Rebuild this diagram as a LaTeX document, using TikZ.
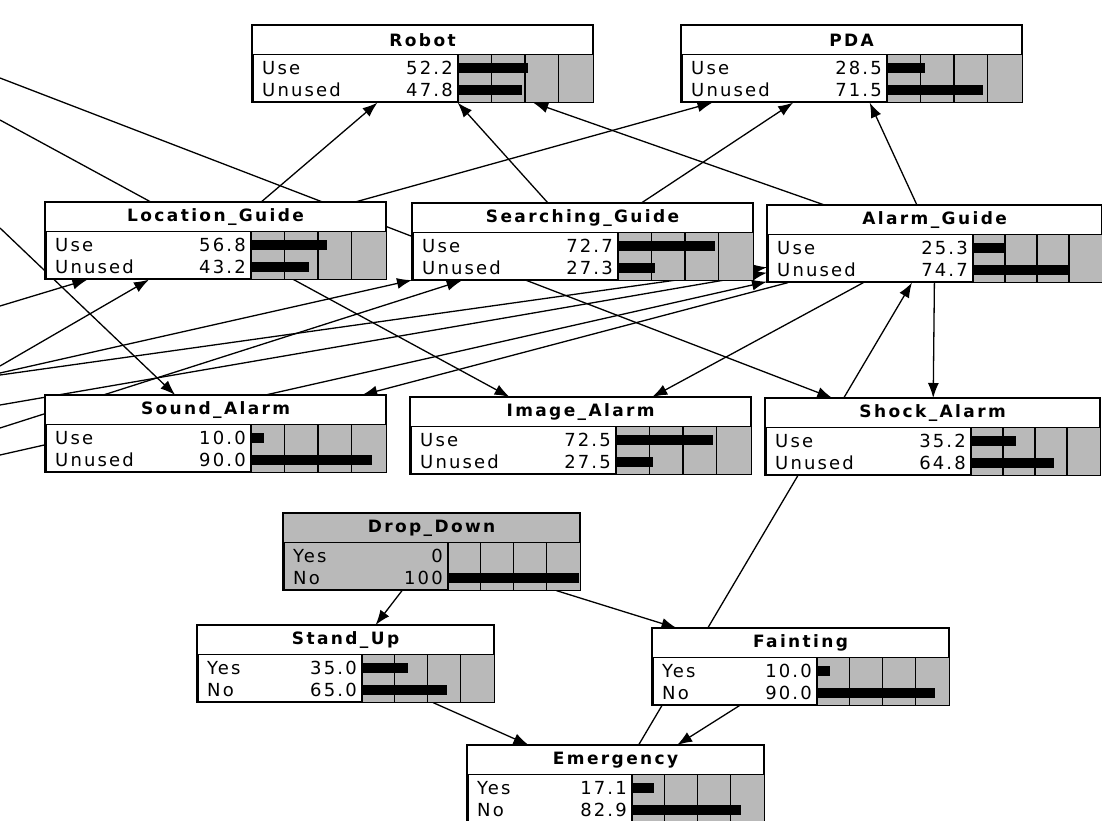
\documentclass[tikz,border=0pt]{standalone}
\usepackage{fontspec}
\setmainfont{DejaVu Sans}
\newfontfamily\bnfont[LetterSpace=12]{DejaVu Sans}
\newfontfamily\bntitlefont[LetterSpace=14]{DejaVu Sans}
\usetikzlibrary{arrows.meta, positioning, calc, backgrounds}

% box sizes (pt)
\newcommand{\boxw}{340}
\newcommand{\labw}{206}
\newcommand{\boxh}{76}

% one belief box: [fill]{name}{top left}{title}{row1}{value1}{row2}{value2}
\newcommand{\bnbox}[8][white]{%
  \node[bnframe, fill=#1, minimum width=\boxw pt, minimum height=\boxh pt] (#2) at (#3) {};
  \node[bntitle, fill=#1, minimum width=\boxw pt] (#2-t) at (#2.north west) {#4};
  \fill[bnchk] ($(#2-t.south west)+(\labw,0)$) rectangle (#2.south east);
  \foreach \f in {0.25,0.5,0.75}
    \draw[line width=1.4pt] ($(#2-t.south west)+({\labw+\f*(\boxw-\labw)},0)$) -- ($(#2.south west)+({\labw+\f*(\boxw-\labw)},0)$);
  \fill ($(#2-t.south west)+(\labw,8)$) rectangle ++({#6*(\boxw-\labw)/100},10);
  \fill ($(#2-t.south west)+(\labw,30)$) rectangle ++({#8*(\boxw-\labw)/100},10);
  \draw[line width=1.2pt] ($(#2-t.south west)+(\labw,0)$) -- ($(#2.south west)+(\labw,0)$);
  \node[bnrow, anchor=west] at ($(#2-t.south west)+(10,13)$) {#5};
  \node[bnrow, anchor=east] at ($(#2-t.south west)+(\labw-5,13)$) {#6};
  \node[bnrow, anchor=west] at ($(#2-t.south west)+(10,35)$) {#7};
  \node[bnrow, anchor=east] at ($(#2-t.south west)+(\labw-5,35)$) {#8};
  \draw[line width=1.6pt] (#2.north west) rectangle (#2.south east);
}

\tikzset{
  bnframe/.style={draw, line width=1.6pt, inner sep=0pt, anchor=north west},
  bntitle/.style={draw, line width=1.2pt, inner sep=0pt, minimum height=29pt, anchor=north west,
    font=\bntitlefont\fontsize{17}{19}\selectfont\bfseries},
  bnrow/.style={inner sep=0pt, font=\bnfont\fontsize{18}{20}\selectfont},
  bnchk/.style={fill=gray!55},
  line/.style={->, line width=1.3pt},
}

\begin{document}
\begin{tikzpicture}[x=1pt, y=-1pt, >={Latex[length=15pt,width=11pt]}]
\useasboundingbox (0,0) rectangle (1102,820);

% Nodes
\bnbox{robot}{252,25}{Robot}{Use}{52.2}{Unused}{47.8}
\bnbox{pda}{681,25}{PDA}{Use}{28.5}{Unused}{71.5}

\bnbox{locationguide}{45,202}{Location\_Guide}{Use}{56.8}{Unused}{43.2}
\bnbox{searchingguide}{412,203}{Searching\_Guide}{Use}{72.7}{Unused}{27.3}

\bnbox{soundalarm}{45,395}{Sound\_Alarm}{Use}{10.0}{Unused}{90.0}
\bnbox{imagealarm}{410,397}{Image\_Alarm}{Use}{72.5}{Unused}{27.5}

\renewcommand{\boxw}{334}
\bnbox{alarmguide}{767,205}{Alarm\_Guide}{Use}{25.3}{Unused}{74.7}
\bnbox{shockalarm}{765,398}{Shock\_Alarm}{Use}{35.2}{Unused}{64.8}

\renewcommand{\boxw}{296}
\renewcommand{\labw}{165}
\renewcommand{\boxh}{76}
\bnbox[gray!55]{dropdown}{283,513}{Drop\_Down}{Yes}{0}{No}{100}
\bnbox{standup}{197,625}{Stand\_Up}{Yes}{35.0}{No}{65.0}
\bnbox{fainting}{652,628}{Fainting}{Yes}{10.0}{No}{90.0}
\bnbox{emergency}{467,745}{Emergency}{Yes}{17.1}{No}{82.9}

% parents outside the view
\coordinate (offa) at (0,78);
\coordinate (offb) at (0,120);
\coordinate (offc) at (0,228);
\coordinate (offd) at (0,306);
\coordinate (offe) at (0,366);
\coordinate (offf) at (0,373);
\coordinate (offg) at (0,375);
\coordinate (offh) at (0,405);
\coordinate (offi) at (0,428);
\coordinate (offj) at (0,455);

% Arrows
\begin{scope}[on background layer]
\draw[line] (locationguide) -- (robot);
\draw[line] (searchingguide) -- (robot);
\draw[line] (alarmguide) -- (robot);
\draw[line] (locationguide) -- (pda);
\draw[line] (searchingguide) -- (pda);
\draw[line] (alarmguide) -- (pda);

\draw[line] (alarmguide) -- (soundalarm);
\draw[line] (alarmguide) -- (imagealarm);
\draw[line] (alarmguide) -- (shockalarm);
\draw[line] (emergency) -- (alarmguide);

\draw[line] (dropdown) -- (standup);
\draw[line] (dropdown) -- (fainting);
\draw[line] (standup) -- (emergency);
\draw[line] (fainting) -- (emergency);

\draw[line] (offa) -- (shockalarm);
\draw[line] (offb) -- (imagealarm);
\draw[line] (offc) -- (soundalarm);
\draw[line] (offd) -- (locationguide);
\draw[line] (offe) -- (locationguide);
\draw[line] (offf) -- (searchingguide);
\draw[line] (offg) -- (alarmguide);
\draw[line] (offh) -- (alarmguide);
\draw[line] (offi) -- (searchingguide);
\draw[line] (offj) -- (alarmguide);
\end{scope}

\end{tikzpicture}
\end{document}
